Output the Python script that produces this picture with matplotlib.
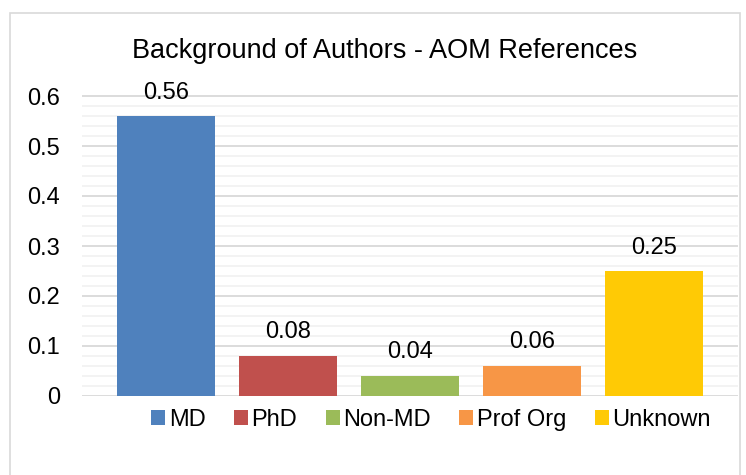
import matplotlib.pyplot as plt
from matplotlib.patches import Rectangle, Patch
from matplotlib.ticker import MultipleLocator

categories = ["MD", "PhD", "Non-MD", "Prof Org", "Unknown"]
values = [0.56, 0.08, 0.04, 0.06, 0.25]
labels = ["0.56", "0.08", "0.04", "0.06", "0.25"]
colors = ["#4F81BD", "#C0504D", "#9BBB59", "#F79646", "#FFCA05"]

plt.rcParams['font.family'] = ['Liberation Sans', 'DejaVu Sans']

fig = plt.figure(figsize=(7.46, 4.75), dpi=100)
fig.patches.append(Rectangle((10 / 746, -0.1), 730 / 746, 1.1 - 13 / 475,
                             transform=fig.transFigure, fill=False,
                             edgecolor="#D9D9D9", linewidth=1.2))

ax = fig.add_axes([82 / 746, 79 / 475, 656 / 746, 301 / 475])
x = list(range(len(categories)))
bars = ax.bar(x, values, width=0.805, color=colors, zorder=3)
for b, t in zip(bars, labels):
    ax.annotate(t, (b.get_x() + b.get_width() / 2, b.get_height()),
                xytext=(0, 9), textcoords='offset points',
                ha='center', va='bottom', fontsize=17, color="#000000")

ax.set_xlim(-0.69, 4.69)
ax.set_ylim(0, 0.602)
ax.yaxis.set_major_locator(MultipleLocator(0.1))
ax.yaxis.set_minor_locator(MultipleLocator(0.02))
ax.set_yticks([0, 0.1, 0.2, 0.3, 0.4, 0.5, 0.6])
ax.set_yticklabels(["0", "0.1", "0.2", "0.3", "0.4", "0.5", "0.6"])
ax.grid(axis='y', which='major', color="#D9D9D9", linewidth=1.3, zorder=0)
ax.grid(axis='y', which='minor', color="#F2F2F2", linewidth=1.3, zorder=0)
ax.set_xticks([])
ax.tick_params(axis='y', which='both', length=0, labelsize=17, pad=16)
for s in ax.spines.values():
    s.set_visible(False)

fig.text(385 / 746, 1 - 51 / 475, "Background of Authors - AOM References",
         ha='center', va='center', fontsize=19.5)

handles = [Patch(facecolor=c, edgecolor='none') for c in colors]
fig.legend(handles, categories, loc='center', bbox_to_anchor=(431 / 746, 1 - 420 / 475),
           ncol=5, frameon=False, fontsize=17, handlelength=0.6, handleheight=0.6,
           handletextpad=0.15, columnspacing=1.2)

fig.savefig("out.png", dpi=100)
